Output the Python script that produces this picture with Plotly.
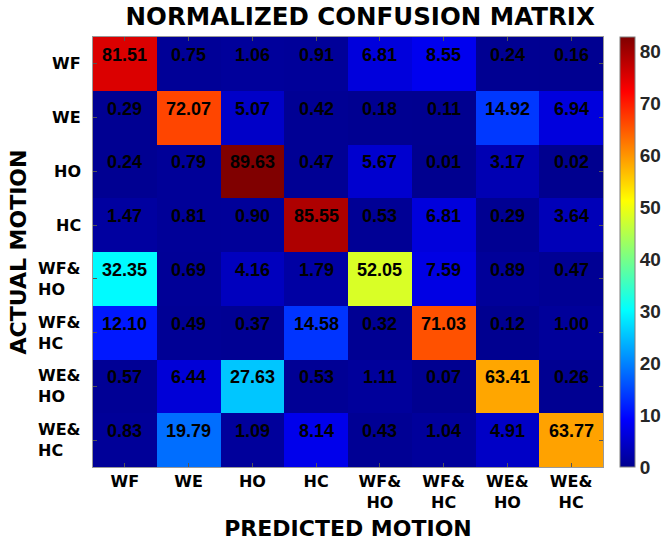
import plotly.graph_objects as go

classes = ["WF", "WE", "HO", "HC", "WF&<br>HO", "WF&<br>HC", "WE&<br>HO", "WE&<br>HC"]

row_wf = [81.51, 0.75, 1.06, 0.91, 6.81, 8.55, 0.24, 0.16]
row_we = [0.29, 72.07, 5.07, 0.42, 0.18, 0.11, 14.92, 6.94]
row_ho = [0.24, 0.79, 89.63, 0.47, 5.67, 0.01, 3.17, 0.02]
row_hc = [1.47, 0.81, 0.90, 85.55, 0.53, 6.81, 0.29, 3.64]
row_wfho = [32.35, 0.69, 4.16, 1.79, 52.05, 7.59, 0.89, 0.47]
row_wfhc = [12.10, 0.49, 0.37, 14.58, 0.32, 71.03, 0.12, 1.00]
row_weho = [0.57, 6.44, 27.63, 0.53, 1.11, 0.07, 63.41, 0.26]
row_wehc = [0.83, 19.79, 1.09, 8.14, 0.43, 1.04, 4.91, 63.77]

matrix = [row_wf, row_we, row_ho, row_hc, row_wfho, row_wfhc, row_weho, row_wehc]

colorbar_ticks = [0, 10, 20, 30, 40, 50, 60, 70, 80]

jet = [
    [0.0, "rgb(0,0,143)"],
    [0.111, "rgb(0,0,255)"],
    [0.365, "rgb(0,255,255)"],
    [0.619, "rgb(255,255,0)"],
    [0.873, "rgb(255,0,0)"],
    [1.0, "rgb(128,0,0)"],
]

idx = list(range(len(classes)))
zmax = max(max(r) for r in matrix)

fig = go.Figure()
fig.add_trace(go.Heatmap(
    z=matrix, x=idx, y=idx,
    colorscale=jet, zmin=0, zmax=zmax,
    showscale=False, hoverinfo="z",
))

# colour bar (as drawn in the reference, spanning 0 to ~82.7)
fig.add_trace(go.Scatter(
    x=[None], y=[None], mode="markers", showlegend=False,
    marker=dict(
        color=[0], colorscale=jet, cmin=0, cmax=82.7, showscale=True,
        colorbar=dict(
            x=1.033, xanchor="left", xpad=0, y=0, yanchor="bottom", ypad=0,
            len=1, lenmode="fraction", thickness=15,
            outlinecolor="#7f7f7f", outlinewidth=1,
            tickvals=colorbar_ticks, ticks="",
            tickfont=dict(family="Liberation Sans", size=19, color="#262626", weight="bold"),
        ),
    ),
))

for i, row in enumerate(matrix):
    for j, v in enumerate(row):
        fig.add_annotation(
            x=j, y=i, text=f"{v:.2f}", showarrow=False, yshift=9,
            font=dict(family="Liberation Sans", size=18, color="black", weight="bold"),
        )

tickfont = dict(family="DejaVu Sans", size=16, color="black", weight="bold")
titlefont = dict(family="DejaVu Sans", size=22, color="black", weight="bold")

# y tick labels: block right-aligned to the axis, lines left-aligned
for i, name in enumerate(classes):
    fig.add_annotation(
        x=0, xref="paper", y=i, yref="y", text=name, showarrow=False,
        xanchor="right", xshift=-10, align="left",
        font=tickfont,
    )

fig.update_layout(
    width=669, height=543,
    margin=dict(l=93, r=63, t=37, b=76),
    paper_bgcolor="white", plot_bgcolor="white",
    title=dict(
        text="NORMALIZED CONFUSION MATRIX", x=0.524, xref="paper", xanchor="center",
        y=1 - 16 / 543, yanchor="middle",
        font=dict(family="DejaVu Sans", size=24.5, color="black", weight="bold"),
    ),
    xaxis=dict(
        tickvals=idx, ticktext=classes, tickfont=tickfont,
        range=[-0.5, 7.5], showgrid=False, zeroline=False,
        ticks="inside", ticklen=4, tickcolor="#555",
        showline=True, linecolor="#999", mirror="ticks",
        automargin=False,
        title=dict(text="PREDICTED MOTION", font=titlefont, standoff=9),
    ),
    yaxis=dict(
        tickvals=idx, ticktext=[""] * len(classes), tickfont=tickfont,
        range=[7.5, -0.5], showgrid=False, zeroline=False,
        ticks="inside", ticklen=4, tickcolor="#555",
        showline=True, linecolor="#999", mirror="ticks",
        automargin=False,
        title=dict(text="ACTUAL MOTION", font=titlefont, standoff=56),
    ),
)

fig.write_html(
    "out.html",
    config={"displayModeBar": False},
    post_script="document.body.style.margin='0';",
)
